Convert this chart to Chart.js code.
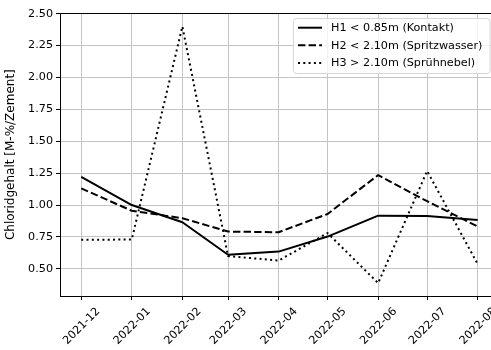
<!DOCTYPE html>
<html>
<head>
<meta charset="utf-8">
<script src="https://cdn.jsdelivr.net/npm/chart.js@4/dist/chart.umd.min.js"></script>
<style>
  html, body { margin: 0; padding: 0; background: #fff; overflow: hidden; width: 491px; height: 350px; }
  #c { display: block; }
</style>
</head>
<body>
<canvas id="c" width="520" height="350"></canvas>
<script>
// ---- data ----
const dates = ['2021-12-01','2022-01-01','2022-02-01','2022-03-01','2022-04-01','2022-05-01','2022-06-01','2022-07-01','2022-08-01'];
const tickLabels = ['2021-12','2022-01','2022-02','2022-03','2022-04','2022-05','2022-06','2022-07','2022-08'];
const seriesNames = ['H1 < 0.85m (Kontakt)', 'H2 < 2.10m (Spritzwasser)', 'H3 > 2.10m (Sprühnebel)'];
const h1 = [1.22, 1.00, 0.865, 0.61, 0.635, 0.753, 0.917, 0.915, 0.883];
const h2 = [1.131, 0.955, 0.897, 0.792, 0.787, 0.93, 1.235, 1.03, 0.831];
const h3 = [0.727, 0.73, 2.40, 0.60, 0.565, 0.78, 0.388, 1.267, 0.537];
const yTicks = [0.5, 0.75, 1.0, 1.25, 1.5, 1.75, 2.0, 2.25, 2.5];

// days since first date (time axis emulated with linear scale)
const t0 = Date.parse(dates[0] + 'T00:00:00Z');
const days = dates.map(d => Math.round((Date.parse(d + 'T00:00:00Z') - t0) / 86400000));
const span = days[days.length - 1] - days[0];
const xMin = days[0] - span * 0.0535;
const xMax = days[days.length - 1] + span * 0.0535;

const toPts = arr => arr.map((v, i) => ({ x: days[i], y: v }));

const FONT = 'DejaVu Sans';
const FS = 11.2;

const spinesAndLegend = {
  id: 'spinesAndLegend',
  afterDraw(chart) {
    const ctx = chart.ctx;
    const a = chart.chartArea;
    ctx.save();
    // top spine (left/bottom drawn by axis borders)
    ctx.strokeStyle = '#000';
    ctx.lineWidth = 1;
    ctx.beginPath();
    ctx.moveTo(a.left, Math.round(a.top) + 0.5);
    ctx.lineTo(a.right, Math.round(a.top) + 0.5);
    ctx.stroke();

    // legend box
    const bx = 293.5, by = 18.5, bw = 196.5, bh = 55, r = 3;
    ctx.globalAlpha = 0.8;
    ctx.fillStyle = '#fff';
    ctx.beginPath();
    ctx.roundRect(bx, by, bw, bh, r);
    ctx.fill();
    ctx.globalAlpha = 1;
    ctx.strokeStyle = '#d6d6d6';
    ctx.lineWidth = 1;
    ctx.stroke();

    ctx.font = FS + 'px "' + FONT + '"';
    ctx.textBaseline = 'middle';
    ctx.textAlign = 'left';
    const rows = [27.7, 45.3, 63];
    chart.data.datasets.forEach((ds, i) => {
      const y = rows[i];
      ctx.strokeStyle = ds.borderColor;
      ctx.lineWidth = ds.borderWidth;
      ctx.setLineDash(ds.borderDash || []);
      ctx.lineCap = 'butt';
      ctx.beginPath();
      ctx.moveTo(298, y);
      ctx.lineTo(322, y);
      ctx.stroke();
      ctx.setLineDash([]);
      ctx.fillStyle = '#000';
      ctx.fillText(ds.label, 331, y + 0.5);
    });
    ctx.restore();
  }
};

new Chart(document.getElementById('c'), {
  type: 'line',
  data: {
    datasets: [
      { label: seriesNames[0], data: toPts(h1), borderColor: '#000', borderWidth: 2, borderDash: [], pointRadius: 0, tension: 0, borderJoinStyle: 'round' },
      { label: seriesNames[1], data: toPts(h2), borderColor: '#000', borderWidth: 2, borderDash: [7.4, 3.2], pointRadius: 0, tension: 0, borderJoinStyle: 'round' },
      { label: seriesNames[2], data: toPts(h3), borderColor: '#000', borderWidth: 2, borderDash: [2, 3.3], pointRadius: 0, tension: 0, borderJoinStyle: 'round' }
    ]
  },
  options: {
    responsive: false,
    devicePixelRatio: 1,
    animation: false,
    layout: { padding: { top: 13.3, right: 21.1, left: 0, bottom: 0 } },
    plugins: { legend: { display: false }, tooltip: { enabled: false } },
    scales: {
      x: {
        type: 'linear',
        min: xMin,
        max: xMax,
        afterBuildTicks: s => { s.ticks = days.map(v => ({ value: v })); },
        afterFit: s => { s.height = 54; },
        grid: { color: '#c4c4c4', lineWidth: 1, tickColor: '#000', tickLength: 4, drawTicks: true },
        border: { display: true, color: '#000', width: 1 },
        ticks: {
          autoSkip: false,
          minRotation: 45,
          maxRotation: 45,
          labelOffset: 17,
          padding: 5,
          color: '#000',
          font: { family: FONT, size: FS },
          callback: v => { const i = days.indexOf(v); return i >= 0 ? tickLabels[i] : ''; }
        }
      },
      y: {
        type: 'linear',
        min: 0.287,
        max: 2.503,
        afterBuildTicks: s => { s.ticks = yTicks.map(v => ({ value: v })); },
        afterFit: s => { s.width = 60; },
        grid: { color: '#c4c4c4', lineWidth: 1, tickColor: '#000', tickLength: 4 },
        border: { display: true, color: '#000', width: 1 },
        ticks: {
          padding: 3,
          color: '#000',
          font: { family: FONT, size: FS },
          callback: v => v.toFixed(2)
        },
        title: {
          display: true,
          text: 'Chloridgehalt [M-%/Zement]',
          color: '#000',
          font: { family: FONT, size: 12 },
          padding: { top: 4, bottom: 0 }
        }
      }
    }
  },
  plugins: [spinesAndLegend]
});
</script>
</body>
</html>
